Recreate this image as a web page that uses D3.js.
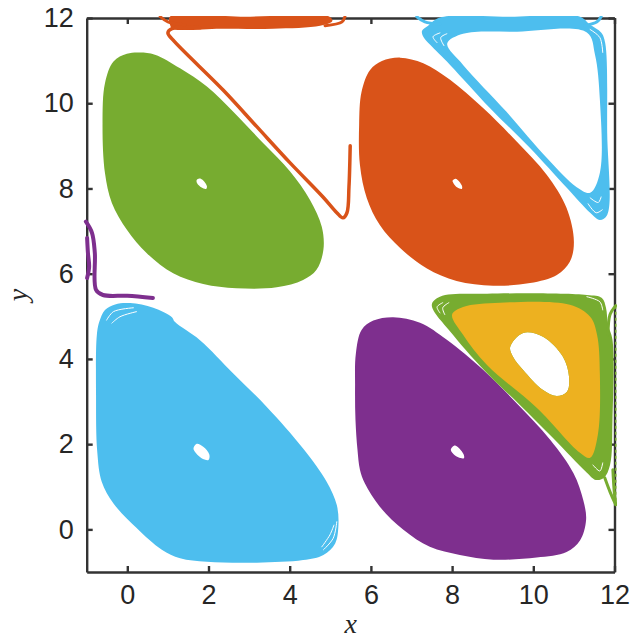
<!DOCTYPE html>
<html>
<head>
<meta charset="utf-8">
<style>
  html, body { margin: 0; padding: 0; background: #fff; }
</style>
</head>
<body>
<script src="https://d3js.org/d3.v7.min.js"></script>
<script>

    var xTicks = [0, 2, 4, 6, 8, 10, 12],
        yTicks = [0, 2, 4, 6, 8, 10, 12];

    var blue = "#4DBEEE", orange = "#D95319", green = "#77AC30", yellow = "#EDB120", purple = "#7E2F8E";

    // filled islands as [x, y]
    var greenBlob = [[-0.61,9.53],[-0.55,10.47],[-0.34,10.98],[-0.01,11.16],[0.31,11.19],[0.68,11.14],[1.30,10.82],[1.96,10.39],[2.61,9.80],[3.35,9.06],[4.01,8.40],[4.50,7.73],[4.79,7.10],[4.83,6.56],[4.66,6.09],[4.33,5.85],[3.68,5.68],[2.69,5.66],[1.87,5.76],[1.13,6.01],[0.48,6.48],[-0.01,7.03],[-0.38,7.66],[-0.55,8.36]];
    var greenHole = [[1.71,8.20],[1.81,8.23],[1.96,8.06],[1.94,7.99],[1.83,8.02],[1.72,8.12]];

    var orangeBlob = [[5.71,9.49],[5.77,10.27],[5.98,10.78],[6.27,10.99],[6.72,11.07],[7.29,10.94],[7.95,10.55],[8.77,9.88],[9.59,9.10],[10.33,8.32],[10.82,7.54],[11.00,6.75],[10.90,6.28],[10.58,5.97],[9.92,5.78],[9.01,5.72],[8.11,5.83],[7.37,6.13],[6.72,6.60],[6.22,7.14],[5.90,7.77],[5.73,8.55]];
    var orangeHole = [[8.01,8.18],[8.09,8.23],[8.24,8.07],[8.24,7.99],[8.13,8.02],[8.03,8.13]];

    var blueBlob = [[-0.75,4.56],[-0.69,4.87],[-0.55,5.15],[-0.30,5.28],[0.07,5.31],[0.64,5.20],[1.10,4.98],[1.17,4.87],[1.79,4.44],[2.61,3.66],[3.43,2.88],[4.33,1.90],[4.91,1.12],[5.16,0.57],[5.20,0.10],[5.12,-0.33],[4.83,-0.60],[4.33,-0.72],[3.19,-0.78],[1.96,-0.76],[1.30,-0.68],[0.85,-0.48],[0.23,0.03],[-0.34,0.61],[-0.63,1.12],[-0.74,1.82],[-0.77,3.16]];
    var blueHole = [[1.63,1.90],[1.71,2.01],[1.87,1.94],[2.02,1.76],[2.00,1.63],[1.83,1.67],[1.69,1.79]];

    var purpleBlob = [[5.61,3.35],[5.63,4.13],[5.77,4.68],[6.06,4.90],[6.55,4.98],[7.21,4.85],[7.87,4.45],[8.77,3.74],[9.59,2.96],[10.42,2.10],[10.99,1.32],[11.23,0.69],[11.30,0.22],[11.15,-0.26],[10.82,-0.53],[10.08,-0.66],[9.02,-0.71],[8.19,-0.60],[7.45,-0.41],[6.80,-0.01],[6.22,0.53],[5.85,1.08],[5.73,1.40],[5.67,1.86],[5.62,2.57]];
    var purpleHole = [[7.97,1.88],[8.07,1.97],[8.28,1.77],[8.29,1.67],[8.15,1.69],[8.01,1.79]];

    var greenRing = [[7.50,5.27],[7.70,5.46],[8.86,5.53],[11.32,5.50],[11.69,5.43],[11.79,5.20],[11.84,4.80],[11.95,4.45],[11.95,2.57],[11.89,1.51],[11.74,1.21],[11.54,1.16],[11.32,1.33],[10.48,2.15],[9.67,2.92],[8.93,3.60],[8.02,4.57]];
    var yellowRing = [[8.00,5.04],[8.27,5.22],[9.18,5.32],[10.90,5.27],[11.40,4.99],[11.57,4.57],[11.64,3.63],[11.59,2.22],[11.40,1.68],[11.15,1.80],[10.09,2.85],[8.86,3.86],[8.27,4.57]];
    var yellowHole = [[9.43,4.28],[9.75,4.61],[10.24,4.52],[10.73,4.05],[10.88,3.58],[10.83,3.23],[10.58,3.13],[10.24,3.27],[9.75,3.74],[9.50,4.05]];

    var blueRing = [[7.26,11.70],[7.41,11.82],[7.70,12.01],[9.43,12.03],[11.15,12.03],[11.40,11.84],[11.67,11.66],[11.77,11.42],[11.82,9.31],[11.82,7.38],[11.64,7.26],[11.40,7.43],[10.83,8.01],[9.92,8.95],[8.93,9.89],[7.95,10.90],[7.46,11.37],[7.28,11.58]];
    var blueRingHole = [[7.88,11.40],[8.27,11.63],[9.60,11.68],[11.32,11.66],[11.52,11.14],[11.64,10.08],[11.64,8.37],[11.40,7.90],[11.07,8.03],[10.33,8.72],[9.34,9.80],[8.27,10.90]];

    var orangeBand = [[1.05,12.03],[2.90,12.03],[4.98,12.03],[5.05,11.93],[4.75,11.82],[3.59,11.75],[2.30,11.75],[1.12,11.75],[1.05,11.85]];

    // thin trajectories
    var orangeTail = [[5.49,9.00],[5.46,8.04],[5.41,7.43],[5.31,7.31],[5.16,7.43],[4.82,7.80],[4.01,8.60],[3.19,9.45],[2.36,10.31],[1.13,11.48],[1.00,11.65],[1.10,11.75],[1.79,11.77]];
    var orangeWispL = [[0.81,12.03],[1.00,11.91],[1.42,11.84]];
    var orangeWispR = [[5.36,12.03],[5.29,11.91],[4.87,11.82]];
    var purpleTail = [[0.63,5.43],[0.00,5.48],[-0.60,5.50],[-0.77,5.62],[-0.80,6.49],[-0.87,6.96],[-1.02,7.22]];
    var purpleStrand = [[-0.99,6.84],[-0.97,6.49],[-0.94,6.16],[-0.99,5.90]];
    var blueWispL = [[7.13,12.03],[7.33,11.91],[7.70,11.86]];
    var blueWispR = [[11.67,12.03],[11.57,11.91],[11.27,11.82]];
    var greenWispTop = [[12.03,5.25],[11.89,5.04],[11.84,4.57]];
    var greenWispLow = [[11.76,1.21],[11.89,0.88],[12.03,0.58]];
    var greenWispLow2 = [[11.96,1.40],[11.99,0.93],[12.03,0.58]];
    var greenEdge = [[12.03,5.25],[12.03,0.58]];

    // white slits between the outer loops
    var blueGaps = [
        [[-0.51,4.91],[-0.34,5.11],[0.15,5.20]],
        [[-0.38,4.84],[-0.18,4.99],[0.23,5.11]],
        [[4.83,-0.48],[5.07,-0.21],[5.16,0.18]],
        [[4.79,-0.41],[4.99,-0.13],[5.09,0.10]]
    ];
    var greenGaps = [
        [[7.77,5.32],[7.63,5.22],[7.70,5.08]],
        [[7.92,5.32],[7.77,5.20],[7.82,5.04]],
        [[11.32,5.46],[11.64,5.34],[11.71,5.15]],
        [[11.47,1.51],[11.64,1.37],[11.71,1.56]]
    ];
    var ringGaps = [
        [[7.63,11.42],[7.53,11.56],[7.70,11.65]],
        [[7.80,11.35],[7.72,11.54],[7.87,11.63]],
        [[11.40,11.73],[11.64,11.54],[11.71,11.19]],
        [[11.40,7.78],[11.60,7.67],[11.67,7.80]],
        [[11.35,7.64],[11.55,7.43],[11.70,7.50]]
    ];

    var width = 641, height = 639;

    var x = d3.scaleLinear().domain([-1, 12]).range([86.7, 614.5]),
        y = d3.scaleLinear().domain([-1, 12]).range([572, 18]);

    var closedLine = d3.line().x(function (d) { return x(d[0]); }).y(function (d) { return y(d[1]); })
        .curve(d3.curveCatmullRomClosed.alpha(0.5));
    var openLine = d3.line().x(function (d) { return x(d[0]); }).y(function (d) { return y(d[1]); })
        .curve(d3.curveCatmullRom.alpha(0.5));

    var svg = d3.select("body").append("svg").attr("width", width).attr("height", height)
        .style("display", "block")
        .style("font-family", "'Liberation Sans', sans-serif");

    svg.append("defs").append("clipPath").attr("id", "plot").append("rect")
        .attr("x", 80).attr("y", 16).attr("width", 537).attr("height", 560);

    function axis(gen, tx, ty, labels) {
        var g = svg.append("g").attr("transform", "translate(" + tx + "," + ty + ")")
            .call(gen.tickSizeInner(-6).tickSizeOuter(0).tickPadding(labels ? 13 : 0));
        if (!labels) g.selectAll("text").remove();
        g.selectAll("path, line").attr("stroke", "#333").attr("stroke-width", 2.4);
        g.selectAll("text").attr("fill", "#262626").style("font-size", "27px")
            .style("font-family", "'Liberation Sans', sans-serif");
    }

    axis(d3.axisBottom(x).tickValues(xTicks), 0, 572, true);
    axis(d3.axisLeft(y).tickValues(yTicks), 86.7, 0, true);
    axis(d3.axisTop(x).tickValues(xTicks), 0, 18, false);
    axis(d3.axisRight(y).tickValues(yTicks), 614.5, 0, false);

    var plot = svg.append("g").attr("clip-path", "url(#plot)");

    function island(outer, hole, color) {
        plot.append("path")
            .attr("d", closedLine(outer) + (hole ? closedLine(hole) : ""))
            .attr("fill", color)
            .attr("fill-rule", "evenodd");
    }

    function trace(points, color, w) {
        plot.append("path")
            .attr("d", openLine(points))
            .attr("fill", "none")
            .attr("stroke", color)
            .attr("stroke-width", w)
            .attr("stroke-linecap", "round");
    }

    island(blueBlob, blueHole, blue);
    island(purpleBlob, purpleHole, purple);
    island(greenBlob, greenHole, green);
    island(orangeBlob, orangeHole, orange);
    island(greenRing, yellowHole, green);
    island(yellowRing, yellowHole, yellow);
    island(blueRing, blueRingHole, blue);
    island(orangeBand, null, orange);

    trace(orangeTail, orange, 3.5);
    trace(orangeWispL, orange, 3);
    trace(orangeWispR, orange, 3);
    trace(purpleTail, purple, 4);
    trace(purpleStrand, purple, 4);
    trace(blueWispL, blue, 3);
    trace(blueWispR, blue, 3);
    trace(greenWispTop, green, 3);
    trace(greenWispLow, green, 3);
    trace(greenWispLow2, green, 3);

    plot.append("path")
        .attr("d", openLine(greenEdge))
        .attr("fill", "none")
        .attr("stroke", green)
        .attr("stroke-width", 1.5)
        .attr("stroke-dasharray", "3 3");

    blueGaps.concat(greenGaps, ringGaps).forEach(function (d) {
        trace(d, "#fff", 1);
    });

    svg.append("text")
        .attr("x", x(5.5)).attr("y", 633)
        .attr("text-anchor", "middle")
        .attr("fill", "#262626")
        .style("font-family", "'Liberation Serif', serif")
        .style("font-style", "italic")
        .style("font-size", "28px")
        .text("x");

    svg.append("text")
        .attr("transform", "translate(27," + y(5.5) + ") rotate(-90)")
        .attr("text-anchor", "middle")
        .attr("fill", "#262626")
        .style("font-family", "'Liberation Serif', serif")
        .style("font-style", "italic")
        .style("font-size", "28px")
        .text("y");

</script>
</body>
</html>
